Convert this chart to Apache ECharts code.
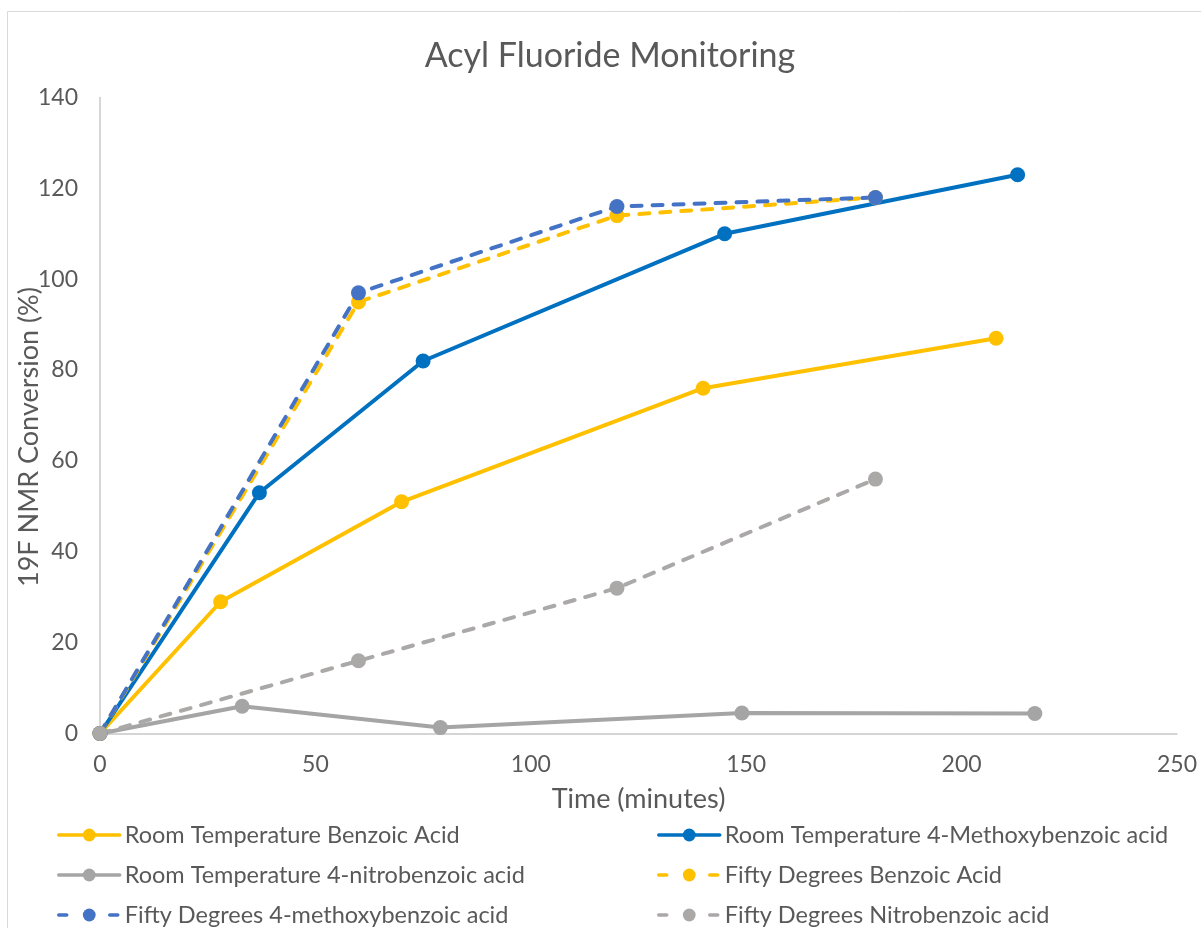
<!DOCTYPE html>
<html>
<head>
<meta charset="utf-8">
<script src="https://cdn.jsdelivr.net/npm/echarts@6/dist/echarts.min.js"></script>
<style>
html,body{margin:0;padding:0;background:#fff;}
#chart{width:1201px;height:928px;}
</style>
</head>
<body>
<div id="chart"></div>
<script>
// ---- data ----
const titleText = 'Acyl Fluoride Monitoring';
const xAxisTitle = 'Time (minutes)';
const yAxisTitle = '19F NMR Conversion (%)';
const seriesNames = [
  'Room Temperature Benzoic Acid',
  'Room Temperature 4-Methoxybenzoic acid',
  'Room Temperature 4-nitrobenzoic acid',
  'Fifty Degrees Benzoic Acid',
  'Fifty Degrees 4-methoxybenzoic acid',
  'Fifty Degrees Nitrobenzoic acid'
];
const rtBenzoic   = [[0,0],[28,29],[70,51],[140,76],[208,87]];
const rtMethoxy   = [[0,0],[37,53],[75,82],[145,110],[213,123]];
const rtNitro     = [[0,0],[33,6],[79,1.3],[149,4.5],[217,4.4]];
const ftBenzoic   = [[0,0],[60,95],[120,114],[180,118]];
const ftMethoxy   = [[0,0],[60,97],[120,116],[180,118]];
const ftNitro     = [[0,0],[60,16],[120,32],[180,56]];
const xTicks = [0,50,100,150,200,250];
const yTicks = [0,20,40,60,80,100,120,140];

const FONT = 'Lato';
const TXT = '#595959';
const dash = [10, 11];
const legendDash = [8, 43];

function mk(name, data, color, dashed) {
  return {
    name: name,
    type: 'line',
    data: data,
    symbol: 'circle',
    symbolSize: 15,
    showSymbol: true,
    smooth: false,
    animation: false,
    lineStyle: { color: color, width: 4, type: dashed ? dash : 'solid', cap: 'round' },
    itemStyle: { color: color, borderWidth: 0 },
    emphasis: { disabled: true }
  };
}
function legItem(name, dashed) {
  return dashed ? { name: name, lineStyle: { type: legendDash } } : { name: name };
}

const chart = echarts.init(document.getElementById('chart'), null, { renderer: 'canvas' });
const legendCommon = {
  orient: 'vertical',
  padding: 0,
  itemWidth: 61,
  itemHeight: 16,
  itemGap: 16,
  selectedMode: false,
  lineStyle: { width: 3.5 },
  textStyle: { fontFamily: FONT, fontSize: 23.5, color: TXT, lineHeight: 24, padding: [0,0,0,0] }
};
chart.setOption({
  backgroundColor: '#ffffff',
  animation: false,
  title: {
    text: titleText,
    left: 610,
    top: 39,
    textAlign: 'center',
    padding: 0,
    textStyle: { fontFamily: FONT, fontSize: 34, fontWeight: 'normal', color: TXT }
  },
  grid: { left: 100, right: 24, top: 97.5, bottom: 194.5, containLabel: false, outerBoundsMode: 'none' },
  xAxis: {
    type: 'value', min: xTicks[0], max: xTicks[xTicks.length-1], interval: xTicks[1]-xTicks[0],
    name: xAxisTitle, nameLocation: 'middle', nameGap: 52,
    nameTextStyle: { fontFamily: FONT, fontSize: 27, color: TXT },
    axisLine: { show: true, lineStyle: { color: '#C8C8C8', width: 1.5 } },
    axisTick: { show: false },
    splitLine: { show: false },
    axisLabel: { fontFamily: FONT, fontSize: 23, color: TXT, margin: 20 }
  },
  yAxis: {
    type: 'value', min: yTicks[0], max: yTicks[yTicks.length-1], interval: yTicks[1]-yTicks[0],
    axisLine: { show: true, lineStyle: { color: '#C8C8C8', width: 1.5 } },
    axisTick: { show: false },
    splitLine: { show: false },
    axisLabel: { fontFamily: FONT, fontSize: 23, color: TXT, margin: 22 }
  },
  legend: [
    Object.assign({}, legendCommon, { left: 57, top: 823,
      data: [legItem(seriesNames[0], false), legItem(seriesNames[2], false), legItem(seriesNames[4], true)] }),
    Object.assign({}, legendCommon, { left: 657, top: 823,
      data: [legItem(seriesNames[1], false), legItem(seriesNames[3], true), legItem(seriesNames[5], true)] })
  ],
  graphic: [
    { type: 'rect', silent: true, z: -10, shape: { x: 7.5, y: 11.5, width: 1400, height: 1200 },
      style: { fill: null, stroke: '#D9D9D9', lineWidth: 1 } },
    { type: 'text', silent: true, x: 29, y: 437, rotation: Math.PI / 2,
      style: { text: yAxisTitle, fontFamily: FONT, fontSize: 27, fill: TXT, align: 'center', verticalAlign: 'middle' } }
  ],
  series: [
    mk(seriesNames[0], rtBenzoic, '#FFC000', false),
    mk(seriesNames[1], rtMethoxy, '#0070C0', false),
    mk(seriesNames[2], rtNitro, '#A5A5A5', false),
    mk(seriesNames[3], ftBenzoic, '#FFC000', true),
    mk(seriesNames[4], ftMethoxy, '#4472C4', true),
    mk(seriesNames[5], ftNitro, '#ABA8A8', true)
  ]
});
</script>
</body>
</html>
